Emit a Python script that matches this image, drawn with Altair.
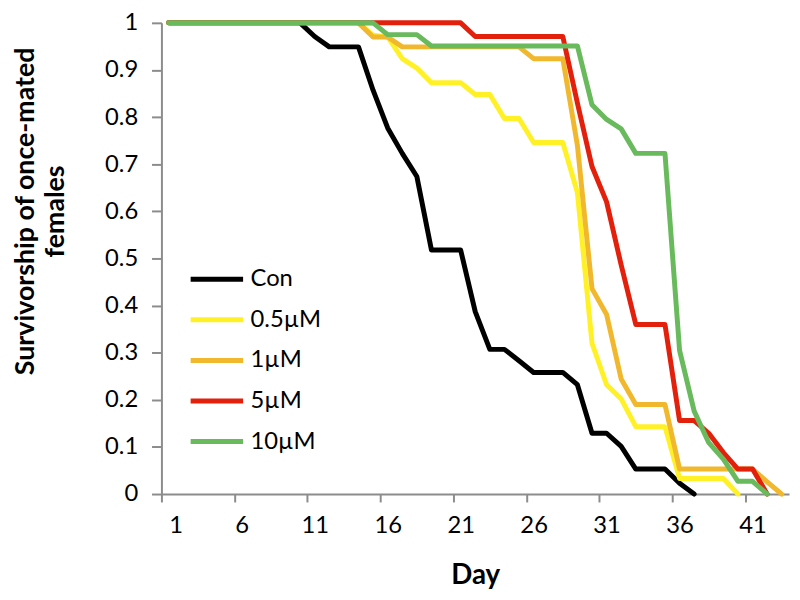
import altair as alt
import pandas as pd

series_names = ["Con", "0.5µM", "1µM", "5µM", "10µM"]
series_colors = ["#000000", "#FFF126", "#F1B82D", "#E2200C", "#69B95D"]

con = [1.0, 1.0, 1.0, 1.0, 1.0, 1.0, 1.0, 1.0, 1.0, 1.0,
       0.971, 0.949, 0.949, 0.949, 0.857, 0.777, 0.723, 0.674, 0.518, 0.518,
       0.518, 0.387, 0.307, 0.307, 0.283, 0.258, 0.258, 0.258, 0.232, 0.129,
       0.129, 0.101, 0.053, 0.053, 0.053, 0.023, 0.0]
um05 = [1.0, 1.0, 1.0, 1.0, 1.0, 1.0, 1.0, 1.0, 1.0, 1.0,
        1.0, 1.0, 1.0, 1.0, 0.974, 0.97, 0.924, 0.904, 0.873, 0.873,
        0.873, 0.848, 0.848, 0.797, 0.797, 0.746, 0.746, 0.746, 0.64, 0.32,
        0.232, 0.202, 0.143, 0.143, 0.143, 0.033, 0.033, 0.033, 0.033, 0.0]
um1 = [1.0, 1.0, 1.0, 1.0, 1.0, 1.0, 1.0, 1.0, 1.0, 1.0,
       1.0, 1.0, 1.0, 1.0, 0.97, 0.97, 0.949, 0.949, 0.949, 0.949,
       0.949, 0.949, 0.949, 0.949, 0.949, 0.924, 0.924, 0.924, 0.74, 0.436,
       0.381, 0.244, 0.19, 0.19, 0.19, 0.053, 0.053, 0.053, 0.053, 0.053,
       0.053, 0.026, 0.0]
um5 = [1.0, 1.0, 1.0, 1.0, 1.0, 1.0, 1.0, 1.0, 1.0, 1.0,
       1.0, 1.0, 1.0, 1.0, 1.0, 1.0, 1.0, 1.0, 1.0, 1.0,
       1.0, 0.971, 0.971, 0.971, 0.971, 0.971, 0.971, 0.971, 0.83, 0.695,
       0.62, 0.486, 0.36, 0.36, 0.36, 0.156, 0.156, 0.129, 0.088, 0.053,
       0.053, 0.0]
um10 = [1.0, 1.0, 1.0, 1.0, 1.0, 1.0, 1.0, 1.0, 1.0, 1.0,
        1.0, 1.0, 1.0, 1.0, 1.0, 0.975, 0.975, 0.975, 0.951, 0.951,
        0.951, 0.951, 0.951, 0.951, 0.951, 0.951, 0.951, 0.951, 0.951, 0.826,
        0.795, 0.775, 0.723, 0.723, 0.723, 0.305, 0.176, 0.109, 0.074, 0.027,
        0.027, 0.0]

x_tick_labels = [1, 6, 11, 16, 21, 26, 31, 36, 41]
y_ticks = [0, 0.1, 0.2, 0.3, 0.4, 0.5, 0.6, 0.7, 0.8, 0.9, 1.0]

rows = []
for name, vals in zip(series_names, [con, um05, um1, um5, um10]):
    for i, v in enumerate(vals):
        rows.append({"day": i + 1, "value": v, "series": name})
df = pd.DataFrame(rows)

FONT = "Lato"
GRAY = "#8C8C8C"

chart = alt.Chart(df).mark_line(
    strokeWidth=5, strokeJoin="round", strokeCap="round"
).encode(
    x=alt.X(
        "day:Q",
        scale=alt.Scale(domain=[0.5, 43.5], nice=False, zero=False),
        axis=alt.Axis(
            values=[t - 0.5 for t in x_tick_labels],
            labelExpr="format(datum.value + 0.5, 'd')",
            labelOffset=7.4,
            title="Day",
            grid=False,
            tickSize=8,
            labelPadding=12,
            titlePadding=24,
        ),
    ),
    y=alt.Y(
        "value:Q",
        scale=alt.Scale(domain=[0, 1], nice=False),
        axis=alt.Axis(
            values=y_ticks,
            labelExpr="datum.value == 0 ? '0' : datum.value == 1 ? '1' : format(datum.value, '.1f')",
            title=["Survivorship of once-mated", "females"],
            grid=False,
            tickSize=10,
            labelPadding=14,
            titleAngle=270,
            titleAlign="center",
            titleBaseline="middle",
            titleX=-137,
            titleY=190,
            titleLineHeight=30,
            titleFontSize=27,
        ),
    ),
    color=alt.Color(
        "series:N",
        scale=alt.Scale(domain=series_names, range=series_colors),
        legend=alt.Legend(
            title=None,
            orient="none",
            legendX=27,
            legendY=230,
            symbolType="stroke",
            symbolSize=2809,
            symbolStrokeWidth=5,
            labelFontSize=24,
            labelFont=FONT,
            labelColor="#000000",
            labelOffset=5,
            rowPadding=-13,
        ),
    ),
).properties(
    width=634,
    height=476,
    autosize=alt.AutoSizeParams(type="none"),
    padding={"left": 155, "top": 12, "right": 3, "bottom": 100},
).configure_view(
    stroke=None
).configure_axis(
    domainColor=GRAY,
    domainWidth=2,
    tickColor=GRAY,
    tickWidth=2,
    labelFont=FONT,
    labelFontSize=24,
    labelColor="#000000",
    titleFont=FONT,
    titleFontSize=28,
    titleFontWeight="bold",
    titleColor="#000000",
)

chart.save("out.html", embed_options={"renderer": "svg", "actions": False})
